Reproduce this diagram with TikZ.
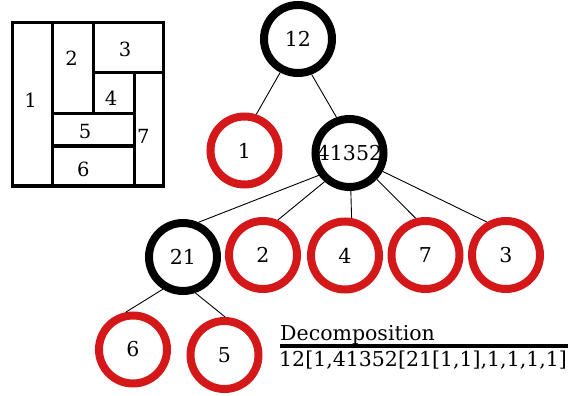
\documentclass[tikz,border=0pt]{standalone}
\usepackage{fontspec}
\setmainfont{DejaVu Serif}
\definecolor{ringred}{RGB}{212,24,26}
\begin{document}
\begin{tikzpicture}[x=1pt,y=-1pt,
  every node/.style={font=\fontsize{20.5}{24}\selectfont},
  blackring/.style={circle,draw=black,line width=8pt,minimum size=68pt,inner sep=0pt},
  redring/.style={circle,draw=ringred,line width=8pt,minimum size=68pt,inner sep=0pt},
  edge/.style={draw=black,line width=0.9pt},
  wall/.style={draw=black,line width=3.3pt},
  cell/.style={inner sep=0pt,font=\fontsize{19.5}{23}\selectfont}]
\useasboundingbox (0,0) rectangle (568,396);
% rectangle decomposition
\draw[wall] (12.7,22.7) rectangle (163.3,186);
\draw[wall] (52.3,22.7) -- (52.3,186);
\draw[wall] (93.3,22.7) -- (93.3,113.3);
\draw[wall] (93.3,72.7) -- (163.3,72.7);
\draw[wall] (134.3,72.7) -- (134.3,186);
\draw[wall] (52.3,113.3) -- (134.3,113.3);
\draw[wall] (52.3,146) -- (134.3,146);
\node[cell] (c1) at (30.7,100) {1};
\node[cell] (c2) at (71.7,58.3) {2};
\node[cell] (c3) at (125,49.3) {3};
\node[cell] (c4) at (111,98.3) {4};
\node[cell] (c5) at (85,131.7) {5};
\node[cell] (c6) at (83.3,169.3) {6};
\node[cell] (c7) at (143.3,136) {7};
% tree
\node[blackring] (n12) at (298,39) {12};
\node[redring] (n1) at (244.5,150.5) {1};
\node[blackring] (n41352) at (349.5,153) {41352};
\node[blackring] (n21) at (183,257) {21};
\node[redring] (n2) at (263,255) {2};
\node[redring] (n4) at (345,255.5) {4};
\node[redring] (n7) at (425.5,255) {7};
\node[redring] (n3) at (506,255) {3};
\node[redring] (n6) at (133,349.5) {6};
\node[redring] (n5) at (224.5,355) {5};
\path[edge] (n12.242) -- (n1.72);
\path[edge] (n12.291) -- (n41352.110);
\path[edge] (n41352.216) -- (n21.66);
\path[edge] (n41352.229) -- (n2.67);
\path[edge] (n41352.272) -- (n4.80);
\path[edge] (n41352.316) -- (n7.105);
\path[edge] (n41352.331) -- (n3.120);
\path[edge] (n21.238) -- (n6.101);
\path[edge] (n21.289) -- (n5.89);
% decomposition label
\node[anchor=base west,inner sep=0pt] (dtitle) at (280,340) {Decomposition};
\coordinate (rulel) at (280,345.5);
\coordinate (ruler) at (568,345.5);
\draw[line width=4pt] (rulel) -- (ruler);
\node[anchor=base west,inner sep=0pt] (dtext) at (279,366) {12[1,41352[21[1,1],1,1,1,1]};
\end{tikzpicture}
\end{document}
